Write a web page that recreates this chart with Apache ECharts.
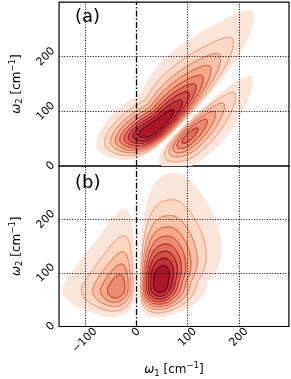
<!DOCTYPE html>
<html>
<head>
<meta charset="utf-8">
<script src="https://cdn.jsdelivr.net/npm/echarts@6.0.0/dist/echarts.min.js"></script>
<style>
html,body{margin:0;padding:0;background:#ffffff;}
#chart{width:291px;height:379px;}
</style>
</head>
<body>
<div id="chart"></div>
<script>
// ---------------- values ----------------
const xTickValues = [-100, 0, 100, 200];
const yTickValues = [0, 100, 200];
const panelLabels = ['(a)', '(b)'];
const contourLevels = [0.1, 0.2, 0.3, 0.4, 0.5, 0.6, 0.7, 0.8, 0.9];
// sign-change (node) line of each panel: a point on it, its direction (deg), softness
const nodeX = [30, 2.5];
const nodeY = [20, 100];
const nodeAngle = [42.6, 90];
const nodeWidth = [22, 22];
// lobes: (a) upper, (a) lower, (b) right, (b) left
const lobePanel = [0, 0, 1, 1];
const lobeSide = [1, -1, -1, 1];
const lobeAmp = [1, 0.78, 1, 0.62];
const lobeCx = [52, 95, 45, -32];
const lobeCy = [72, 58, 83, 71];
const lobeAngle = [34, 42, 0, 0];
const lobeSigUp = [55, 57, 23.5, 40];
const lobeSigUm = [70, 38, 40, 26];
const lobeSigVp = [20.5, 30, 40, 40];
const lobeSigVm = [30, 17, 37, 28];
const lobeSkewUp = [60, 150, 30, 0];
const lobeSkewUm = [0, 0, 0, -35];
const lobeSkewVp = [30, 0, 40, 40];
const lobeSkewVm = [0, -40, 0, 0];
const lobeBendUp = [0.32, 0, 0, 0];
const lobeBendUm = [0.36, 0, 0, 0];
const lobeBendR = [25, 1, 1, 1];
const lobeShear = [0, 0, 0.15, 0.3];
const lobeWidenU = [0, 0, 0.5, 0];
const lobeWidenV = [0.45, 0.2, 0, 0];
const lobeShapeQ = [2.6, 2, 2.6, 2];
const lobeBoxy = [0, 0, 1, 0];
// -------------------------------------------------------------------------

const X_MIN = -150, X_MAX = 297, Y_MIN = 0, Y_MAX = 300;
const NX = 298, NY = 200;

function skew(d, S) {
  if (!S) return d;
  const t = 1 + d / S;
  if (t <= 0) return d > 0 ? Infinity : -Infinity;
  return S * Math.log(t);
}
function lobeValue(i, x, y) {
  const th = lobeAngle[i] * Math.PI / 180, c = Math.cos(th), s = Math.sin(th);
  const dx = x - lobeCx[i], dy = y - lobeCy[i];
  let u = dx * c + dy * s, v = -dx * s + dy * c;
  const R = lobeBendR[i];
  v = v - (u >= 0 ? lobeBendUp[i] : lobeBendUm[i]) * (Math.sqrt(u * u + R * R) - R);
  u = u - lobeShear[i] * v;
  const u1 = skew(u, u >= 0 ? lobeSkewUp[i] : lobeSkewUm[i]);
  const v1 = skew(v, v >= 0 ? lobeSkewVp[i] : lobeSkewVm[i]);
  if (!isFinite(u1) || !isFinite(v1)) return 0;
  const su = (u1 >= 0 ? lobeSigUp[i] : lobeSigUm[i]) * (1 + lobeWidenU[i] * Math.max(v1, 0) / 100);
  const sv = (v1 >= 0 ? lobeSigVp[i] : lobeSigVm[i]) * (1 + lobeWidenV[i] * Math.max(u1, 0) / 100);
  const a = Math.abs(u1 / su), b = Math.abs(v1 / sv);
  const q = lobeShapeQ[i];
  const e = lobeBoxy[i] ? Math.pow(a, q) + Math.pow(b, q) : Math.pow(a * a + b * b, q / 2);
  return lobeAmp[i] * Math.exp(-0.5 * e);
}
function panelValue(p, x, y) {
  const ph = nodeAngle[p] * Math.PI / 180;
  const d = -(x - nodeX[p]) * Math.sin(ph) + (y - nodeY[p]) * Math.cos(ph);
  const side = d >= 0 ? 1 : -1;
  let v = 0;
  for (let i = 0; i < lobePanel.length; i++) {
    if (lobePanel[i] === p && lobeSide[i] === side) v += lobeValue(i, x, y);
  }
  return v * Math.abs(Math.tanh(d / nodeWidth[p]));
}
const fields = [0, 1].map(function (p) {
  const vals = new Float64Array((NX + 1) * (NY + 1));
  let mx = 0;
  for (let j = 0; j <= NY; j++) {
    const y = Y_MIN + (Y_MAX - Y_MIN) * j / NY;
    for (let i = 0; i <= NX; i++) {
      const x = X_MIN + (X_MAX - X_MIN) * i / NX;
      const v = panelValue(p, x, y);
      vals[j * (NX + 1) + i] = v;
      if (v > mx) mx = v;
    }
  }
  for (let k = 0; k < vals.length; k++) vals[k] /= mx;
  return vals;
});

// RdBu_r colour map
const cmapStops = [[0.5, [247, 247, 247]], [0.6, [253, 219, 199]], [0.7, [244, 165, 130]],
  [0.8, [214, 96, 77]], [0.9, [178, 24, 43]], [1.0, [103, 0, 31]]];
function cmap(t) {
  t = Math.max(0.5, Math.min(1, t));
  for (let k = 0; k < cmapStops.length - 1; k++) {
    const a = cmapStops[k], b = cmapStops[k + 1];
    if (t <= b[0]) {
      const f = (t - a[0]) / (b[0] - a[0]);
      const c = a[1].map(function (v, n) { return Math.round(v + f * (b[1][n] - v)); });
      return 'rgb(' + c.join(',') + ')';
    }
  }
  return 'rgb(103,0,31)';
}
function fillColor(L) { return cmap(0.5 + 0.43 * (L + 0.05)); }
function lineColor(L) { return cmap(0.5 + 0.43 * (L + 0.05) + 0.09); }

function geomFill(vals, L, mapX, mapY) {
  const out = [];
  const W1 = NX + 1;
  for (let j = 0; j < NY; j++) {
    let run = -1;
    for (let i = 0; i < NX; i++) {
      const v00 = vals[j * W1 + i], v10 = vals[j * W1 + i + 1];
      const v01 = vals[(j + 1) * W1 + i], v11 = vals[(j + 1) * W1 + i + 1];
      const full = v00 >= L && v10 >= L && v01 >= L && v11 >= L;
      if (full) { if (run < 0) run = i; continue; }
      if (run >= 0) {
        out.push('M' + mapX(run) + ' ' + mapY(j) + 'L' + mapX(i) + ' ' + mapY(j) + 'L' + mapX(i) + ' ' + mapY(j + 1) + 'L' + mapX(run) + ' ' + mapY(j + 1) + 'Z');
        run = -1;
      }
      if (v00 < L && v10 < L && v01 < L && v11 < L) continue;
      const cs = [[i, j, v00], [i + 1, j, v10], [i + 1, j + 1, v11], [i, j + 1, v01]];
      const pts = [];
      for (let k = 0; k < 4; k++) {
        const A = cs[k], B = cs[(k + 1) % 4];
        if (A[2] >= L) pts.push(mapX(A[0]) + ' ' + mapY(A[1]));
        if ((A[2] >= L) !== (B[2] >= L)) {
          const t = (L - A[2]) / (B[2] - A[2]);
          pts.push(mapX(A[0] + t * (B[0] - A[0])) + ' ' + mapY(A[1] + t * (B[1] - A[1])));
        }
      }
      out.push('M' + pts.join('L') + 'Z');
    }
    if (run >= 0) {
      out.push('M' + mapX(run) + ' ' + mapY(j) + 'L' + mapX(NX) + ' ' + mapY(j) + 'L' + mapX(NX) + ' ' + mapY(j + 1) + 'L' + mapX(run) + ' ' + mapY(j + 1) + 'Z');
    }
  }
  return out.join('');
}
function geomLine(vals, L, mapX, mapY) {
  const out = [];
  const W1 = NX + 1;
  for (let j = 0; j < NY; j++) {
    for (let i = 0; i < NX; i++) {
      const v00 = vals[j * W1 + i], v10 = vals[j * W1 + i + 1];
      const v01 = vals[(j + 1) * W1 + i], v11 = vals[(j + 1) * W1 + i + 1];
      const cs = [[i, j, v00], [i + 1, j, v10], [i + 1, j + 1, v11], [i, j + 1, v01]];
      const cr = [];
      for (let k = 0; k < 4; k++) {
        const A = cs[k], B = cs[(k + 1) % 4];
        if ((A[2] >= L) !== (B[2] >= L)) {
          const t = (L - A[2]) / (B[2] - A[2]);
          cr.push(mapX(A[0] + t * (B[0] - A[0])) + ' ' + mapY(A[1] + t * (B[1] - A[1])));
        }
      }
      if (cr.length === 2) out.push('M' + cr[0] + 'L' + cr[1]);
      else if (cr.length === 4) { out.push('M' + cr[0] + 'L' + cr[1]); out.push('M' + cr[2] + 'L' + cr[3]); }
    }
  }
  return out.join('');
}
function makeRender(p, kind) {
  return function (params, api) {
    const k = api.value(2);
    const L = contourLevels[k];
    const p0 = api.coord([X_MIN, Y_MIN]), p1 = api.coord([X_MAX, Y_MAX]);
    const mapX = function (gi) { return (p0[0] + (p1[0] - p0[0]) * gi / NX).toFixed(2); };
    const mapY = function (gj) { return (p0[1] + (p1[1] - p0[1]) * gj / NY).toFixed(2); };
    if (kind === 'fill') {
      return { type: 'path', silent: true, shape: { pathData: geomFill(fields[p], L, mapX, mapY) },
        style: { fill: fillColor(L), stroke: null } };
    }
    if (k === 0) return null;
    return { type: 'path', silent: true, shape: { pathData: geomLine(fields[p], L, mapX, mapY) },
      style: { fill: null, stroke: lineColor(L), lineWidth: 0.9, lineCap: 'round', lineJoin: 'round' } };
  };
}

// tick label helpers
const FONT = '"DejaVu Sans", sans-serif';
const TICK_FS = 11;
const measureCtx = document.createElement('canvas').getContext('2d');
measureCtx.font = TICK_FS + 'px "DejaVu Sans"';
function tickText(v) { return v < 0 ? '\u2212' + Math.abs(v) : String(v); }
function richFor(values, prefix, base, margin, vertical) {
  const rich = {};
  values.forEach(function (v, k) {
    const w = measureCtx.measureText(tickText(v)).width;
    const off = base + 0.3536 * (w + 0.72 * TICK_FS);
    const pd = Math.max(0, (off - margin) * Math.SQRT2);
    rich[prefix + k] = { fontSize: TICK_FS, fontFamily: FONT, color: '#000',
      padding: vertical ? [0, pd, pd, 0] : [pd, pd, 0, 0] };
  });
  return rich;
}
function xLabel(show) {
  return { show: show, rotate: 45, align: 'center', verticalAlign: 'middle', margin: 2, interval: 0,
    fontSize: TICK_FS, fontFamily: FONT, color: '#000',
    formatter: function (v) { const k = xTickValues.indexOf(v); return k < 0 ? '' : '{x' + k + '|' + tickText(v) + '}'; },
    rich: richFor(xTickValues, 'x', 0.5, 2, false) };
}
function yLabel() {
  return { show: true, rotate: 45, align: 'center', verticalAlign: 'middle', margin: 2, interval: 0,
    fontSize: TICK_FS, fontFamily: FONT, color: '#000',
    formatter: function (v) { const k = yTickValues.indexOf(v); return k < 0 ? '' : '{y' + k + '|' + tickText(v) + '}'; },
    rich: richFor(yTickValues, 'y', 3, 2, true) };
}
const nameRich = {
  w: { fontSize: 12, fontStyle: 'italic', fontFamily: FONT, color: '#000' },
  s: { fontSize: 8.5, fontFamily: FONT, color: '#000', padding: [7, 0, 0, 0] },
  p: { fontSize: 8.5, fontFamily: FONT, color: '#000', padding: [0, 0, 8, 0] }
};

const grids = [
  { left: 43, top: 1, width: 246, height: 165 },
  { left: 43, top: 166, width: 246, height: 165 }
].map(function (g) { return Object.assign(g, { show: true, borderColor: '#000', borderWidth: 1.2, backgroundColor: 'transparent' }); });

const xAxes = [0, 1].map(function (p) {
  return { gridIndex: p, type: 'value', min: X_MIN, max: X_MAX, interval: 50,
    axisLine: { show: false }, axisTick: { show: false }, splitLine: { show: false },
    axisLabel: xLabel(p === 1),
    name: p === 1 ? '{w|ω}{s|1} [cm{p|\u22121}]' : '', nameLocation: 'middle', nameGap: 35,
    nameTextStyle: { fontSize: 12, fontFamily: FONT, color: '#000', rich: nameRich } };
});
const yAxes = [0, 1].map(function (p) {
  return { gridIndex: p, type: 'value', min: Y_MIN, max: Y_MAX, interval: 100,
    axisLine: { show: false }, axisTick: { show: false }, splitLine: { show: false },
    axisLabel: yLabel(),
    name: '{w|ω}{s|2} [cm{p|\u22121}]', nameLocation: 'middle', nameRotate: 90, nameGap: 34,
    nameTextStyle: { fontSize: 12, fontFamily: FONT, color: '#000', rich: nameRich } };
});

const series = [];
[0, 1].forEach(function (p) {
  const items = contourLevels.map(function (L, k) { return [X_MIN, Y_MIN, k]; });
  series.push({ type: 'custom', xAxisIndex: p, yAxisIndex: p, coordinateSystem: 'cartesian2d',
    data: items, renderItem: makeRender(p, 'fill'), clip: true, silent: true, z: 1, animation: false });
  const gridData = xTickValues.filter(function (v) { return v !== 0; }).map(function (v) { return { xAxis: v }; })
    .concat(yTickValues.filter(function (v) { return v !== 0; }).map(function (v) { return { yAxis: v }; }));
  gridData.push({ xAxis: 0, lineStyle: { type: [6, 2, 1.5, 2], width: 1.3, color: '#000' } });
  series.push({ type: 'line', xAxisIndex: p, yAxisIndex: p, data: [], z: 3, silent: true, animation: false,
    markLine: { symbol: 'none', silent: true, animation: false, label: { show: false },
      lineStyle: { type: [1, 1.6], width: 1, color: '#000' }, emphasis: { disabled: true },
      data: gridData } });
  series.push({ type: 'custom', xAxisIndex: p, yAxisIndex: p, coordinateSystem: 'cartesian2d',
    data: items, renderItem: makeRender(p, 'line'), clip: true, silent: true, z: 4, animation: false });
});

const chart = echarts.init(document.getElementById('chart'), null, { renderer: 'canvas' });
chart.setOption({
  animation: false,
  backgroundColor: '#ffffff',
  title: panelLabels.map(function (t, p) {
    return { text: t, left: 75, top: p === 0 ? 8 : 174, padding: 0,
      textStyle: { fontSize: 18, fontWeight: 'normal', fontFamily: FONT, color: '#000' } };
  }),
  grid: grids,
  xAxis: xAxes,
  yAxis: yAxes,
  series: series
});
</script>
</body>
</html>
